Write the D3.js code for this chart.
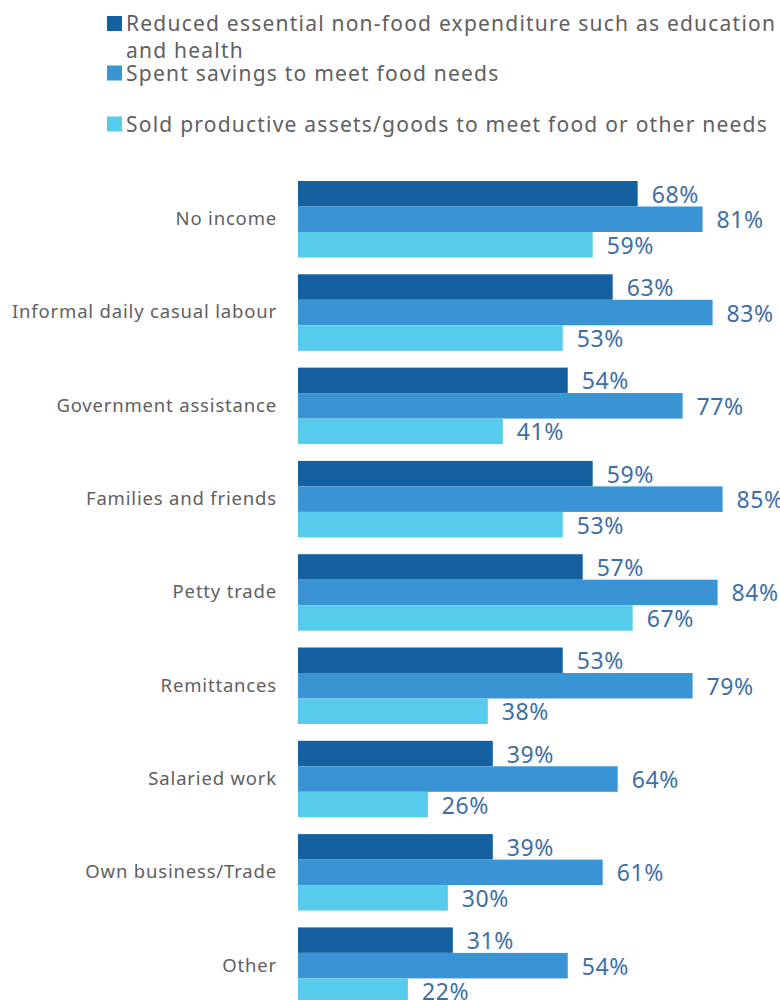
<!DOCTYPE html>
<html>
<head>
<meta charset="utf-8">
<script src="https://cdn.jsdelivr.net/npm/d3@7"></script>
<style>
  html, body { margin: 0; padding: 0; background: #fff; }
  svg { display: block; }
</style>
</head>
<body>
<svg id="chart" width="780" height="1000"></svg>
<script>
const categories = [
  "No income",
  "Informal daily casual labour",
  "Government assistance",
  "Families and friends",
  "Petty trade",
  "Remittances",
  "Salaried work",
  "Own business/Trade",
  "Other"
];
const seriesNames = [
  "Reduced essential non-food expenditure such as education and health",
  "Spent savings to meet food needs",
  "Sold productive assets/goods to meet food or other needs"
];
const reducedExpenditure = [68, 63, 54, 59, 57, 53, 39, 39, 31];
const spentSavings = [81, 83, 77, 85, 84, 79, 64, 61, 54];
const soldAssets = [59, 53, 41, 53, 67, 38, 26, 30, 22];
const seriesValues = [reducedExpenditure, spentSavings, soldAssets];
const colors = ["#1561a0", "#3a94d3", "#57cbec"];

const FONT = "'Noto Sans', 'Open Sans', sans-serif";
const svg = d3.select("#chart");

// Scales
const x = d3.scaleLinear().domain([0, 100]).range([298, 797.5]);
const y = d3.scaleBand().domain(categories)
  .range([181, 181 + 9 * 93.3 - 16.8]).paddingInner(0.18).paddingOuter(0);
const yInner = d3.scaleBand().domain(d3.range(seriesNames.length))
  .range([0, y.bandwidth()]).padding(0);

// Legend
const legendItems = [
  { s: 0, lines: ["Reduced essential non-food expenditure such as education", "and health"], base: 31 },
  { s: 1, lines: ["Spent savings to meet food needs"], base: 80.5 },
  { s: 2, lines: ["Sold productive assets/goods to meet food or other needs"], base: 131.5 }
];
const legend = svg.append("g");
legendItems.forEach(item => {
  legend.append("rect")
    .attr("x", 107).attr("y", item.base - 15).attr("width", 15).attr("height", 15)
    .attr("fill", colors[item.s]);
  const t = legend.append("text")
    .attr("x", 126).attr("y", item.base)
    .attr("font-family", FONT).attr("font-size", 21)
    .attr("letter-spacing", 1.22)
    .attr("fill", "#606060");
  item.lines.forEach((ln, i) => {
    t.append("tspan").attr("x", 126).attr("dy", i === 0 ? 0 : 26.7).text(ln);
  });
});

// Groups
const groups = svg.append("g").selectAll("g")
  .data(categories)
  .join("g")
  .attr("transform", d => `translate(0,${y(d)})`);

groups.selectAll("rect")
  .data((d, i) => seriesValues.map((vals, s) => ({ s, v: vals[i] })))
  .join("rect")
  .attr("x", x(0))
  .attr("y", d => yInner(d.s))
  .attr("width", d => x(d.v) - x(0))
  .attr("height", yInner.bandwidth())
  .attr("fill", d => colors[d.s]);

groups.selectAll("text.val")
  .data((d, i) => seriesValues.map((vals, s) => ({ s, v: vals[i] })))
  .join("text")
  .attr("class", "val")
  .attr("x", d => x(d.v) + 14)
  .attr("y", d => yInner(d.s) + yInner.bandwidth() / 2 + 9)
  .attr("font-family", FONT).attr("font-size", 23)
  .attr("letter-spacing", 0.6)
  .attr("fill", "#3d6fa6")
  .text(d => d.v + "%");

// Category axis labels
const yAxis = d3.axisLeft(y).tickSize(0).tickPadding(0);
const axisG = svg.append("g").attr("transform", `translate(277,0)`).call(yAxis);
axisG.select(".domain").remove();
axisG.selectAll("text")
  .attr("font-family", FONT).attr("font-size", 18.5)
  .attr("letter-spacing", 0.82)
  .attr("fill", "#606060");
</script>
</body>
</html>
